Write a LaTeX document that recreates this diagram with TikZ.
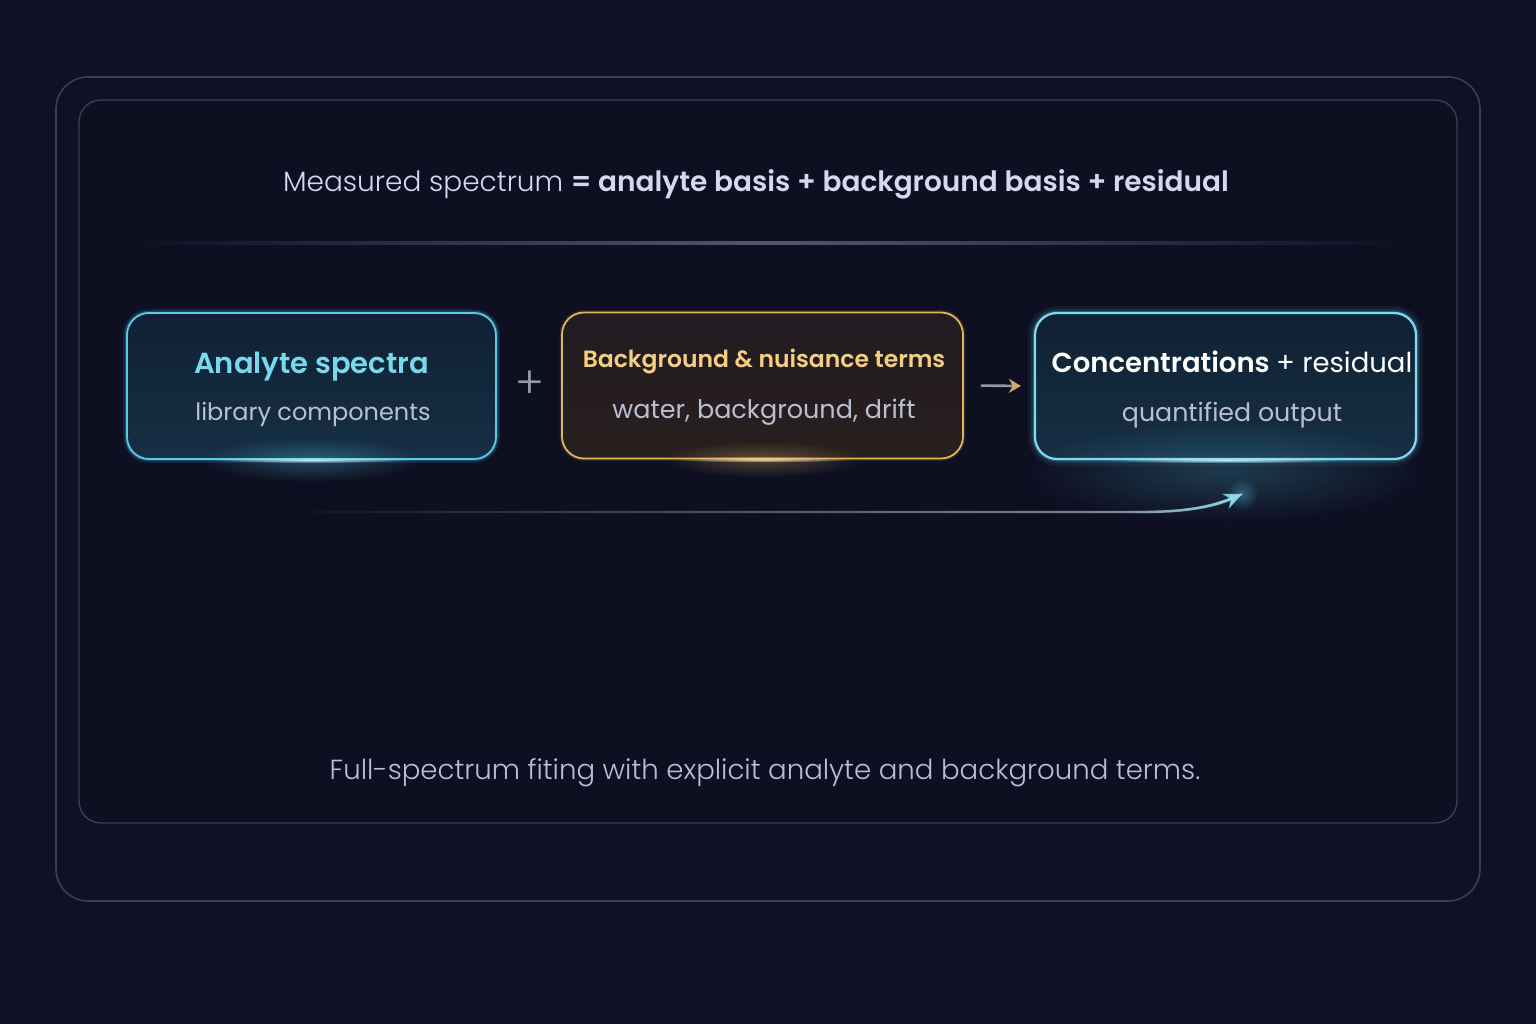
\documentclass[tikz,border=0pt]{standalone}
\usepackage{fontspec}
\setmainfont{Poppins}[BoldFont={Poppins SemiBold}]
\newfontfamily\lightfont{Poppins Light}
\usetikzlibrary{arrows.meta,fadings,positioning}
\definecolor{nightnavy}{RGB}{17,17,37}
\definecolor{panelnavy}{RGB}{14,16,34}
\definecolor{framegray}{RGB}{58,61,86}
\definecolor{rulegray}{RGB}{84,86,108}
\definecolor{lavtext}{RGB}{214,216,236}
\definecolor{softgray}{RGB}{186,191,210}
\definecolor{spectcyan}{RGB}{88,205,235}
\definecolor{spectcyantext}{RGB}{120,216,236}
\definecolor{tealtop}{RGB}{16,33,52}
\definecolor{tealbottom}{RGB}{22,47,68}
\definecolor{nuisgold}{RGB}{228,180,92}
\definecolor{nuisgoldtext}{RGB}{246,207,126}
\definecolor{browntop}{RGB}{33,27,34}
\definecolor{brownbottom}{RGB}{40,31,30}
\definecolor{arrowgray}{RGB}{150,150,168}
\tikzfading[name=fadefromleft, left color=transparent!100, right color=transparent!0]
\tikzfading[name=softglow, inner color=transparent!0, outer color=transparent!100]

\begin{document}
\begin{tikzpicture}[x=1pt,y=-1pt,
    card/.style={draw, rounded corners=22pt, line width=1.8pt, minimum height=146pt},
    tealcard/.style={card, top color=tealtop, bottom color=tealbottom},
    browncard/.style={card, top color=browntop, bottom color=brownbottom},
    cyanglow/.style={preaction={draw=spectcyan, line width=8pt, draw opacity=0.10},
                     preaction={draw=spectcyan, line width=4.5pt, draw opacity=0.22}},
    goldglow/.style={preaction={draw=nuisgold, line width=5pt, draw opacity=0.12}},
    cardtitle/.style={anchor=base, font=\fontsize{29}{32}\selectfont\bfseries},
    cardsub/.style={anchor=base, text=softgray, font=\fontsize{24}{28}\selectfont},
    edgeglow/.style={path fading=softglow}]
    \useasboundingbox (0,0) rectangle (1536,1024);
    \fill[nightnavy] (0,0) rectangle (1536,1024);

    % Frames
    \draw[framegray, line width=1.6pt, rounded corners=32pt] (56,77) rectangle (1480,901);
    \draw[framegray, fill=panelnavy, line width=1.4pt, rounded corners=22pt] (79,100) rectangle (1457,823);

    % Equation
    \node[anchor=base, text=lavtext, font=\fontsize{28}{32}\selectfont] (equation) at (756,192)
        {{\lightfont Measured spectrum} \textbf{= analyte basis + background basis + residual}};
    \shade[left color=panelnavy, right color=panelnavy, middle color=rulegray] (130,242) rectangle (1405,245);

    % Cards
    \node[tealcard, cyanglow, draw=spectcyan, minimum width=369pt] (analyte) at (311.5,386) {};
    \node[browncard, goldglow, draw=nuisgold, minimum width=401pt] (nuisance) at (762.5,385.5) {};
    \node[tealcard, cyanglow, draw=spectcyan!75!white, line width=2.2pt,
          preaction={draw=spectcyan, line width=14pt, draw opacity=0.07}, minimum width=381pt] (result) at (1225.5,386) {};

    % Bottom glows
    \fill[spectcyan, edgeglow, fill opacity=0.30] (analyte.south) ellipse (110 and 22);
    \fill[spectcyan!40!white, edgeglow] (analyte.south) ellipse (100 and 3);
    \fill[nuisgold, edgeglow, fill opacity=0.30] (nuisance.south) ellipse (100 and 18);
    \fill[nuisgold!50!white, edgeglow] (nuisance.south) ellipse (90 and 3);
    \fill[spectcyan, edgeglow, fill opacity=0.22] ([yshift=-12]result.south) ellipse (200 and 50);
    \fill[spectcyan!40!white, edgeglow] (result.south) ellipse (120 and 3);

    % Card texts
    \node[cardtitle, text=spectcyantext] (analytehead) at (311.5,373) {Analyte spectra};
    \node[cardsub] (analytesub) at (313,420) {library components};
    \node[cardtitle, text=nuisgoldtext, font=\fontsize{23.5}{28}\selectfont\bfseries] (nuisancehead) at (764,367) {Background \& nuisance terms};
    \node[cardsub, font=\fontsize{25.5}{28}\selectfont] (nuisancesub) at (764,418) {water, background, drift};
    \node[cardtitle, text=white, font=\fontsize{27.5}{32}\selectfont\bfseries] (resulthead) at (1232,372) {Concentrations {\mdseries + residual}};
    \node[cardsub, font=\fontsize{25.3}{28}\selectfont] (resultsub) at (1232,421) {quantified output};

    % Operators
    \node[text=arrowgray, font=\fontsize{44}{44}\selectfont\lightfont] (plus) at (530,385) {+};
    \draw[arrowgray, line width=2.6pt, -{Stealth[length=12pt, width=14pt, color=nuisgold!70!arrowgray]},
          shorten <=17pt, shorten >=13pt] (nuisance.east) -- (result.west);

    % Fit arrow
    \coordinate (fitstart) at (270,512);
    \coordinate (fitend) at (1242,494);
    \fill[spectcyan, edgeglow, fill opacity=0.35] (fitend) circle (16);
    \draw[arrowgray, line width=2.4pt, path fading=fadefromleft]
        (fitstart) -- (1140,512) .. controls (1190,512) and (1215,506) .. (fitend);
    \draw[spectcyan!70!white, line width=2.6pt, -{Stealth[length=18pt, width=16pt]}, path fading=fadefromleft]
        (1120,512) -- (1140,512) .. controls (1190,512) and (1215,506) .. (fitend);

    % Caption
    \node[anchor=base, text=softgray, font=\fontsize{27.6}{30}\selectfont\lightfont] (caption) at (765,779)
        {Full-spectrum fiting with explicit analyte and background terms.};
\end{tikzpicture}
\end{document}
